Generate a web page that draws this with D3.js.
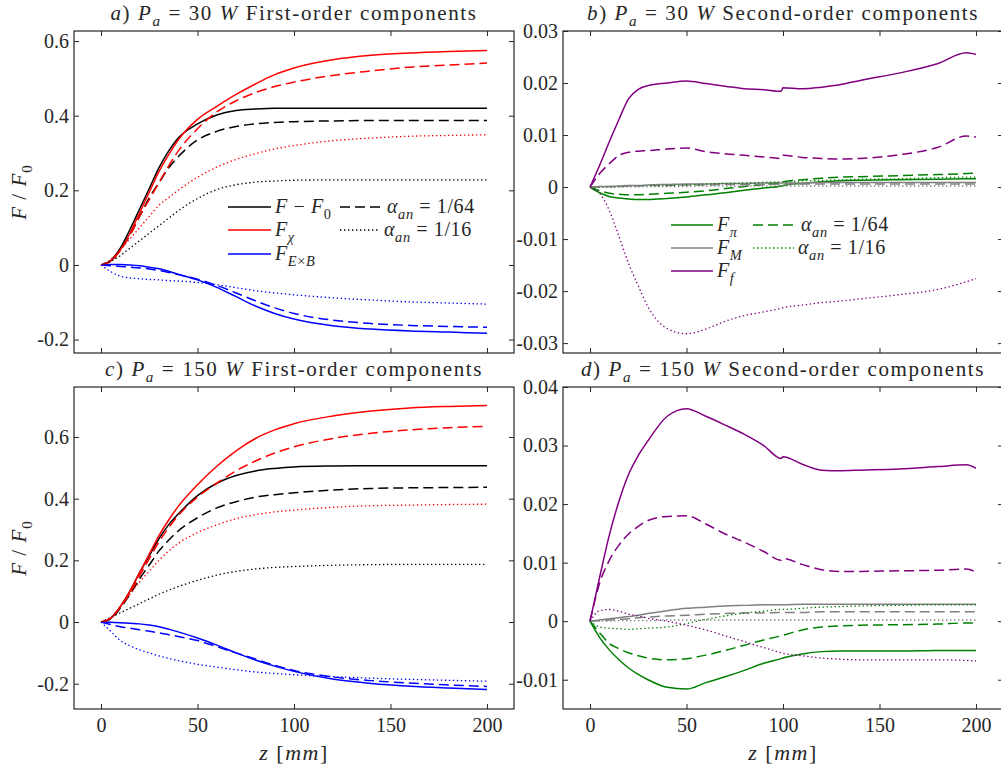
<!DOCTYPE html>
<html>
<head>
<meta charset="utf-8">
<script src="https://cdn.jsdelivr.net/npm/d3@7"></script>
<style>
  body { margin: 0; background: #fff; }
  text { font-family: "Liberation Serif", "DejaVu Serif", serif; fill: #262626; }
</style>
</head>
<body>
<div id="chart"></div>
<script>
// z grids [mm]
var zFirst = [0, 5, 10, 15, 20, 25, 30, 35, 40, 50, 60, 70, 80, 90, 100, 120, 140, 160, 180, 200];
var zSecond = [0, 5, 10, 15, 20, 25, 30, 40, 50, 60, 70, 80, 90, 99, 100, 110, 120, 130, 140, 160, 180, 195, 200];

// a) Pa = 30 W, first order
var aTotal   = [0, 0.012, 0.045, 0.095, 0.15, 0.205, 0.26, 0.305, 0.34, 0.378, 0.402, 0.414, 0.418, 0.42, 0.42, 0.42, 0.42, 0.42, 0.42, 0.42];
var aTotal64 = [0, 0.01, 0.04, 0.08, 0.13, 0.18, 0.22, 0.26, 0.29, 0.335, 0.358, 0.371, 0.378, 0.382, 0.384, 0.386, 0.387, 0.387, 0.387, 0.387];
var aTotal16 = [0, 0.01, 0.025, 0.045, 0.065, 0.085, 0.105, 0.125, 0.145, 0.178, 0.202, 0.215, 0.222, 0.225, 0.227, 0.228, 0.228, 0.228, 0.228, 0.228];
var aChi     = [0, 0.01, 0.04, 0.085, 0.14, 0.195, 0.25, 0.295, 0.335, 0.39, 0.425, 0.457, 0.485, 0.51, 0.528, 0.55, 0.562, 0.568, 0.572, 0.575];
var aChi64   = [0, 0.01, 0.04, 0.08, 0.13, 0.175, 0.22, 0.265, 0.305, 0.365, 0.41, 0.44, 0.462, 0.478, 0.49, 0.508, 0.52, 0.53, 0.536, 0.541];
var aChi16   = [0, 0.015, 0.04, 0.07, 0.1, 0.13, 0.16, 0.18, 0.2, 0.235, 0.262, 0.283, 0.298, 0.311, 0.32, 0.333, 0.34, 0.345, 0.347, 0.349];
var aExB     = [0, 0.001, 0.001, 0, -0.002, -0.006, -0.01, -0.017, -0.025, -0.04, -0.06, -0.085, -0.11, -0.13, -0.145, -0.163, -0.172, -0.177, -0.18, -0.183];
var aExB64   = [0, -0.002, -0.004, -0.006, -0.008, -0.011, -0.015, -0.02, -0.026, -0.038, -0.055, -0.075, -0.096, -0.115, -0.13, -0.148, -0.157, -0.162, -0.165, -0.167];
var aExB16   = [0, -0.018, -0.03, -0.035, -0.037, -0.039, -0.04, -0.042, -0.043, -0.047, -0.053, -0.061, -0.069, -0.075, -0.08, -0.088, -0.094, -0.099, -0.102, -0.105];

// c) Pa = 150 W, first order
var cTotal   = [0, 0.012, 0.05, 0.1, 0.16, 0.215, 0.27, 0.315, 0.35, 0.41, 0.45, 0.475, 0.49, 0.498, 0.503, 0.506, 0.507, 0.507, 0.507, 0.507];
var cTotal64 = [0, 0.01, 0.045, 0.09, 0.14, 0.185, 0.23, 0.265, 0.295, 0.338, 0.37, 0.39, 0.405, 0.413, 0.419, 0.428, 0.433, 0.435, 0.436, 0.437];
var cTotal16 = [0, 0.015, 0.03, 0.045, 0.06, 0.075, 0.09, 0.103, 0.115, 0.135, 0.152, 0.164, 0.172, 0.177, 0.18, 0.184, 0.186, 0.187, 0.187, 0.187];
var cChi     = [0, 0.012, 0.05, 0.1, 0.16, 0.22, 0.28, 0.33, 0.375, 0.445, 0.505, 0.555, 0.595, 0.623, 0.643, 0.668, 0.684, 0.694, 0.699, 0.702];
var cChi64   = [0, 0.012, 0.048, 0.095, 0.15, 0.205, 0.26, 0.305, 0.345, 0.405, 0.45, 0.49, 0.522, 0.548, 0.568, 0.595, 0.612, 0.623, 0.63, 0.634];
var cChi16   = [0, 0.015, 0.05, 0.09, 0.13, 0.165, 0.2, 0.23, 0.255, 0.29, 0.315, 0.335, 0.348, 0.357, 0.363, 0.372, 0.377, 0.379, 0.381, 0.382];
var cExB     = [0, -0.001, -0.002, -0.004, -0.006, -0.01, -0.015, -0.023, -0.032, -0.052, -0.075, -0.1, -0.123, -0.143, -0.16, -0.185, -0.199, -0.208, -0.214, -0.219];
var cExB64   = [0, -0.008, -0.015, -0.02, -0.025, -0.03, -0.035, -0.041, -0.047, -0.06, -0.08, -0.1, -0.12, -0.14, -0.157, -0.178, -0.19, -0.198, -0.204, -0.209];
var cExB16   = [0, -0.03, -0.06, -0.077, -0.09, -0.1, -0.11, -0.118, -0.125, -0.137, -0.146, -0.155, -0.162, -0.167, -0.171, -0.177, -0.182, -0.186, -0.189, -0.192];

// b) Pa = 30 W, second order
var bPi    = [0, -0.0011, -0.0018, -0.0021, -0.0023, -0.0024, -0.0024, -0.0022, -0.0019, -0.0015, -0.0011, -0.0006, -0.0002, 0.0002, 0.0003, 0.0007, 0.001, 0.0012, 0.0013, 0.0014, 0.0015, 0.0016, 0.0016];
var bPi64  = [0, -0.0007, -0.0012, -0.0014, -0.0015, -0.0015, -0.0014, -0.0012, -0.001, -0.0007, -0.0003, 0.0001, 0.0005, 0.0009, 0.001, 0.0014, 0.0017, 0.0019, 0.002, 0.0022, 0.0024, 0.0026, 0.0027];
var bPi16  = [0, 0, 0, 0.0001, 0.0001, 0.0001, 0.0002, 0.0003, 0.0004, 0.0006, 0.0007, 0.0008, 0.0009, 0.001, 0.001, 0.0012, 0.0013, 0.0014, 0.0015, 0.0016, 0.0018, 0.0019, 0.0019];
var bM     = [0, 0.0001, 0.0001, 0.0002, 0.0003, 0.0003, 0.0004, 0.0005, 0.0006, 0.0006, 0.0007, 0.0007, 0.0008, 0.0008, 0.0008, 0.0008, 0.0009, 0.0009, 0.0009, 0.0009, 0.0009, 0.0009, 0.0009];
var bM64   = [0, 0, 0.0001, 0.0001, 0.0002, 0.0002, 0.0003, 0.0003, 0.0004, 0.0004, 0.0005, 0.0005, 0.0005, 0.0006, 0.0006, 0.0006, 0.0006, 0.0006, 0.0006, 0.0006, 0.0006, 0.0006, 0.0006];
var bM16   = [0, 0, 0, 0, 0.0001, 0.0001, 0.0001, 0.0001, 0.0001, 0.0002, 0.0002, 0.0002, 0.0002, 0.0002, 0.0002, 0.0002, 0.0002, 0.0002, 0.0002, 0.0002, 0.0002, 0.0002, 0.0002];
var bF     = [0, 0.0042, 0.0087, 0.013, 0.017, 0.0188, 0.0195, 0.02, 0.0204, 0.0199, 0.0194, 0.0189, 0.0187, 0.0184, 0.0191, 0.0189, 0.0192, 0.0197, 0.0205, 0.0219, 0.0237, 0.0258, 0.0255];
var bF64   = [0, 0.0026, 0.0045, 0.0061, 0.0067, 0.0069, 0.007, 0.0073, 0.0075, 0.0068, 0.0064, 0.0061, 0.0058, 0.0055, 0.0061, 0.0057, 0.0055, 0.0054, 0.0055, 0.0062, 0.0076, 0.0098, 0.0096];
var bF16   = [0, -0.0012, -0.0045, -0.0095, -0.0147, -0.019, -0.023, -0.0272, -0.0282, -0.0273, -0.0258, -0.0247, -0.024, -0.0233, -0.0232, -0.0227, -0.0222, -0.0219, -0.0215, -0.0207, -0.0197, -0.0182, -0.0176];

// d) Pa = 150 W, second order
var dPi    = [0, -0.0028, -0.0049, -0.0066, -0.008, -0.0091, -0.01, -0.0113, -0.0116, -0.0105, -0.0095, -0.0084, -0.0072, -0.0064, -0.0063, -0.0056, -0.0052, -0.0051, -0.0051, -0.0051, -0.005, -0.005, -0.005];
var dPi64  = [0, -0.002, -0.0038, -0.0047, -0.0054, -0.0059, -0.0063, -0.0066, -0.0064, -0.0058, -0.005, -0.0041, -0.0032, -0.0025, -0.0024, -0.0015, -0.001, -0.0008, -0.0007, -0.0006, -0.0005, -0.0003, -0.0003];
var dPi16  = [0, -0.001, -0.0012, -0.0013, -0.0014, -0.0013, -0.0012, -0.001, -0.0004, 0.0003, 0.0009, 0.0014, 0.0017, 0.002, 0.002, 0.0022, 0.0024, 0.0025, 0.0026, 0.0027, 0.0028, 0.0028, 0.0028];
var dM     = [0, 0.0002, 0.0004, 0.0006, 0.0008, 0.001, 0.0013, 0.0018, 0.0022, 0.0024, 0.0026, 0.0027, 0.0028, 0.0028, 0.0028, 0.0029, 0.0029, 0.0029, 0.0029, 0.0029, 0.0029, 0.0029, 0.0029];
var dM64   = [0, 0.0001, 0.0002, 0.0003, 0.0004, 0.0006, 0.0007, 0.0009, 0.001, 0.0012, 0.0013, 0.0014, 0.0014, 0.0015, 0.0015, 0.0015, 0.0016, 0.0016, 0.0016, 0.0016, 0.0016, 0.0016, 0.0016];
var dM16   = [0, 0, 0, 0.0001, 0.0001, 0.0001, 0.0001, 0.0002, 0.0002, 0.0002, 0.0002, 0.0002, 0.0002, 0.0002, 0.0002, 0.0002, 0.0002, 0.0002, 0.0002, 0.0002, 0.0002, 0.0002, 0.0002];
var dF     = [0, 0.0075, 0.0147, 0.0205, 0.0251, 0.0283, 0.0308, 0.035, 0.0363, 0.035, 0.0335, 0.0319, 0.0300, 0.0278, 0.0281, 0.0268, 0.0258, 0.0257, 0.0258, 0.026, 0.0264, 0.0267, 0.0261];
var dF64   = [0, 0.0065, 0.0104, 0.013, 0.0149, 0.0162, 0.0172, 0.0179, 0.018, 0.0166, 0.0149, 0.0135, 0.0119, 0.0104, 0.0107, 0.0097, 0.0088, 0.0085, 0.0085, 0.0086, 0.0087, 0.0089, 0.0084];
var dF16   = [0, 0.0018, 0.002, 0.0017, 0.0012, 0.0009, 0.0005, 0, -0.0007, -0.0015, -0.0025, -0.0035, -0.0045, -0.0054, -0.0055, -0.0059, -0.0063, -0.0065, -0.0066, -0.0066, -0.0066, -0.0067, -0.0068];

// tick values
var xTicks = [0, 50, 100, 150, 200];
var yTicksFirst = [-0.2, 0, 0.2, 0.4, 0.6];
var yTicksB = [-0.03, -0.02, -0.01, 0, 0.01, 0.02, 0.03];
var yTicksD = [-0.01, 0, 0.01, 0.02, 0.03, 0.04];

var colors = { total: "#000000", chi: "#ff0000", exb: "#0000ff", pi: "#008000", m: "#808080", f: "#800080" };
var dashes = { solid: null, d64: "10,5", d16: "1.4,2.6" };

var svgWidth = 1001, svgHeight = 770;
var plotW = 440, plotH = 322;

var svg = d3.select("#chart").append("svg")
  .attr("width", svgWidth)
  .attr("height", svgHeight);

// write a label made of [text, style] pieces; style: i, r, si (sub italic), sr (sub roman)
function mathText(sel, parts, size) {
  var shift = 0;
  parts.forEach(function(p) {
    var sub = p[1] === "si" || p[1] === "sr";
    var want = sub ? Math.round(size * 0.3) : 0;
    sel.append("tspan")
      .attr("dy", want - shift)
      .attr("font-style", (p[1] === "i" || p[1] === "si") ? "italic" : "normal")
      .attr("font-size", sub ? size * 0.72 : size)
      .text(p[0]);
    shift = want;
  });
}

function tickFmt(dec) {
  return function(d) {
    if (Math.abs(d) < 1e-9) return "0";
    return d3.format("." + dec + "f")(d).replace("\u2212", "-");
  };
}

var panels = [
  { left: 74, top: 31, yDomain: [-0.236, 0.627], yTicks: yTicksFirst, dec: 1, xLabels: false, z: zFirst,
    title: [["a", "i"], [") ", "r"], ["P", "i"], ["a", "si"], ["  =  30 ", "r"], ["W", "i"], ["  First-order components", "r"]],
    series: [
      [aTotal, "total", "solid"], [aChi, "chi", "solid"], [aExB, "exb", "solid"],
      [aTotal64, "total", "d64"], [aChi64, "chi", "d64"], [aExB64, "exb", "d64"],
      [aTotal16, "total", "d16"], [aChi16, "chi", "d16"], [aExB16, "exb", "d16"]
    ] },
  { left: 563, top: 31, yDomain: [-0.0319, 0.03], yTicks: yTicksB, dec: 2, xLabels: false, z: zSecond,
    title: [["b", "i"], [") ", "r"], ["P", "i"], ["a", "si"], ["  =  30 ", "r"], ["W", "i"], ["  Second-order components", "r"]],
    series: [
      [bPi, "pi", "solid"], [bM, "m", "solid"], [bF, "f", "solid"],
      [bPi64, "pi", "d64"], [bM64, "m", "d64"], [bF64, "f", "d64"],
      [bPi16, "pi", "d16"], [bM16, "m", "d16"], [bF16, "f", "d16"]
    ] },
  { left: 74, top: 387, yDomain: [-0.282, 0.762], yTicks: yTicksFirst, dec: 1, xLabels: true, z: zFirst,
    title: [["c", "i"], [") ", "r"], ["P", "i"], ["a", "si"], ["  =  150 ", "r"], ["W", "i"], ["  First-order components", "r"]],
    series: [
      [cTotal, "total", "solid"], [cChi, "chi", "solid"], [cExB, "exb", "solid"],
      [cTotal64, "total", "d64"], [cChi64, "chi", "d64"], [cExB64, "exb", "d64"],
      [cTotal16, "total", "d16"], [cChi16, "chi", "d16"], [cExB16, "exb", "d16"]
    ] },
  { left: 563, top: 387, yDomain: [-0.015, 0.04], yTicks: yTicksD, dec: 2, xLabels: true, z: zSecond,
    title: [["d", "i"], [") ", "r"], ["P", "i"], ["a", "si"], ["  =  150 ", "r"], ["W", "i"], ["  Second-order components", "r"]],
    series: [
      [dPi, "pi", "solid"], [dM, "m", "solid"], [dF, "f", "solid"],
      [dPi64, "pi", "d64"], [dM64, "m", "d64"], [dF64, "f", "d64"],
      [dPi16, "pi", "d16"], [dM16, "m", "d16"], [dF16, "f", "d16"]
    ] }
];

panels.forEach(function(p, i) {
  var g = svg.append("g").attr("transform", `translate(${p.left}, ${p.top})`);

  var x = d3.scaleLinear().domain([-14, 214]).range([0, plotW]);
  var y = d3.scaleLinear().domain(p.yDomain).range([plotH, 0]);

  g.append("clipPath").attr("id", "clip" + i)
    .append("rect").attr("width", plotW).attr("height", plotH);

  var line = d3.line()
    .x(function(d) { return x(d[0]); })
    .y(function(d) { return y(d[1]); })
    .curve(d3.curveMonotoneX);

  var lines = g.append("g").attr("clip-path", `url(#clip${i})`);
  p.series.forEach(function(s) {
    var pts = p.z.map(function(z, k) { return [z, s[0][k]]; });
    lines.append("path")
      .attr("d", line(pts))
      .attr("fill", "none")
      .attr("stroke", colors[s[1]])
      .attr("stroke-width", s[2] === "d16" ? 1.3 : 1.5)
      .attr("stroke-dasharray", dashes[s[2]]);
  });

  // axes, ticks pointing inward on all four sides
  var leftAxis = d3.axisLeft(y).tickValues(p.yTicks).tickFormat(tickFmt(p.dec)).tickSizeInner(-5).tickSizeOuter(0).tickPadding(5);
  var rightAxis = d3.axisRight(y).tickValues(p.yTicks).tickFormat("").tickSizeInner(-5).tickSizeOuter(0);
  var bottomAxis = d3.axisBottom(x).tickValues(xTicks).tickFormat(p.xLabels ? d3.format("d") : "").tickSizeInner(-5).tickSizeOuter(0).tickPadding(9);
  var topAxis = d3.axisTop(x).tickValues(xTicks).tickFormat("").tickSizeInner(-5).tickSizeOuter(0);

  var axes = [
    g.append("g").call(leftAxis),
    g.append("g").attr("transform", `translate(${plotW}, 0)`).call(rightAxis),
    g.append("g").attr("transform", `translate(0, ${plotH})`).call(bottomAxis),
    g.append("g").call(topAxis)
  ];
  axes.forEach(function(a) {
    a.select(".domain").remove();
    a.selectAll("line").attr("stroke", "#262626");
    a.selectAll("text").attr("font-size", 20).attr("font-family", null).attr("fill", "#262626");
  });

  g.append("rect")
    .attr("width", plotW).attr("height", plotH)
    .attr("fill", "none").attr("stroke", "#262626").attr("stroke-width", 1.2);

  var title = g.append("text")
    .attr("x", plotW / 2).attr("y", -11)
    .attr("text-anchor", "middle")
    .attr("letter-spacing", 1.6);
  mathText(title, p.title, 21);

  if (i % 2 === 0) {
    var yl = g.append("text")
      .attr("transform", `translate(-48, ${plotH / 2}) rotate(-90)`)
      .attr("text-anchor", "middle")
      .attr("letter-spacing", 1);
    mathText(yl, [["F", "i"], [" / ", "r"], ["F", "i"], ["0", "sr"]], 21);
  }
  if (p.xLabels) {
    var xl = g.append("text")
      .attr("x", plotW / 2).attr("y", plotH + 51)
      .attr("text-anchor", "middle")
      .attr("letter-spacing", 1.5);
    mathText(xl, [["z", "i"], ["  [", "r"], ["mm", "i"], ["]", "r"]], 22);
  }
});

// legends
function legendItem(x0, x1, yy, color, dash, label) {
  svg.append("line")
    .attr("x1", x0).attr("x2", x1).attr("y1", yy).attr("y2", yy)
    .attr("stroke", color).attr("stroke-width", dash === "d16" ? 1.3 : 1.5)
    .attr("stroke-dasharray", dashes[dash]);
  var t = svg.append("text").attr("x", x1 + 4).attr("y", yy + 6).attr("letter-spacing", 0.6);
  mathText(t, label, 20);
}

var alpha64 = [["\u03b1", "i"], ["an", "si"], ["  =  1/64", "r"]];
var alpha16 = [["\u03b1", "i"], ["an", "si"], ["  =  1/16", "r"]];

legendItem(228, 271, 207, colors.total, "solid", [["F", "i"], [" \u2212 ", "r"], ["F", "i"], ["0", "sr"]]);
legendItem(228, 271, 230, colors.chi, "solid", [["F", "i"], ["\u03c7", "si"]]);
legendItem(228, 271, 254, colors.exb, "solid", [["F", "i"], ["E", "si"], ["\u00d7", "sr"], ["B", "si"]]);
legendItem(340, 383, 207, colors.total, "d64", alpha64);
legendItem(340, 380, 230, colors.total, "d16", alpha16);

legendItem(671, 713, 225, colors.pi, "solid", [["F", "i"], ["\u03c0", "si"]]);
legendItem(671, 713, 248, colors.m, "solid", [["F", "i"], ["M", "si"]]);
legendItem(671, 713, 271, colors.f, "solid", [["F", "i"], ["f", "si"]]);
legendItem(753, 797, 225, colors.pi, "d64", alpha64);
legendItem(753, 794, 248, colors.pi, "d16", alpha16);
</script>
</body>
</html>
